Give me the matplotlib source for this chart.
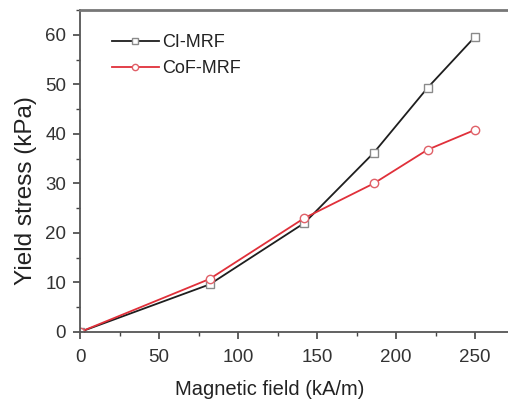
import matplotlib
matplotlib.use("Agg")
import matplotlib.pyplot as plt
from matplotlib.ticker import MultipleLocator

plt.rcParams['font.family'] = ['Liberation Sans', 'DejaVu Sans']

field_ci = [0, 82, 142, 186, 220, 250]
stress_ci = [0, 9.6, 22.0, 36.2, 49.3, 59.6]
field_cof = [0, 82, 142, 186, 220, 250]
stress_cof = [0, 10.7, 23.0, 30.0, 36.8, 40.8]

W, H = 508, 400
L, R, B, T = 80, 520, 332, 10
fig = plt.figure(figsize=(W / 100, H / 100), dpi=100)
ax = fig.add_axes([L / W, (H - B) / H, (R - L) / W, (B - T) / H])

ax.plot(field_ci, stress_ci, color='#1e1e1e', lw=1.3, marker='s', ms=6,
        mfc='white', mec='#8a8a8a', mew=1.0, label='CI-MRF')
ax.plot(field_cof, stress_cof, color='#e0303a', lw=1.3, marker='o', ms=6,
        mfc='white', mec='#e06068', mew=1.0, label='CoF-MRF')

ax.set_xlim(0, (R - L) / 1.58)
ax.set_ylim(0, 65)
ax.xaxis.set_major_locator(MultipleLocator(50))
ax.xaxis.set_minor_locator(MultipleLocator(25))
ax.yaxis.set_major_locator(MultipleLocator(10))
ax.yaxis.set_minor_locator(MultipleLocator(5))
ax.tick_params(which='major', direction='out', length=5, width=1.2, labelsize=13.5,
               colors='#444444', labelcolor='#333333')
ax.tick_params(axis='x', which='major', pad=7)
ax.tick_params(axis='y', which='major', pad=5)
ax.tick_params(which='minor', direction='out', length=3, width=1.0, colors='#444444')
ax.tick_params(top=False, right=False)
for s in ax.spines.values():
    s.set_color('#555555')
    s.set_linewidth(1.3)
ax.spines['top'].set_color('#777777')
ax.spines['top'].set_linewidth(2.0)
ax.spines['right'].set_visible(False)

ax.set_xlabel('Magnetic field (kA/m)', fontsize=14.5, color='#222222')
ax.set_ylabel('Yield stress (kPa)', fontsize=17.5, color='#222222')
ax.xaxis.set_label_coords((270 - L) / (R - L), (B - 380) / (B - T))
ax.yaxis.set_label_coords((37 - L) / (R - L), (B - 191) / (B - T))

leg = ax.legend(loc='upper left', bbox_to_anchor=((112 - L) / (R - L), (B - 34) / (B - T)),
                frameon=False, fontsize=13, handlelength=2.6, handletextpad=0.2,
                labelspacing=0.5, borderpad=0, borderaxespad=0, markerscale=0.75)
for t in leg.get_texts():
    t.set_color('#222222')

fig.savefig('out.png', dpi=100)
